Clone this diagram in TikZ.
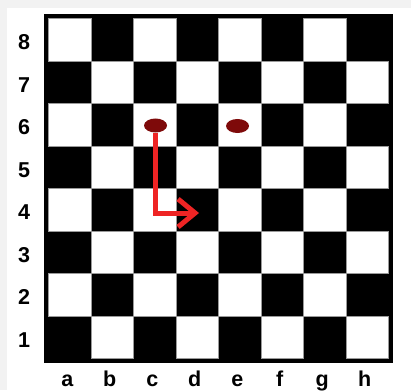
\documentclass[tikz,border=0pt]{standalone}
\usepackage{fontspec}
\setmainfont{Liberation Sans}
\usetikzlibrary{arrows.meta,shapes.geometric}
\definecolor{framegray}{HTML}{F2F2F2}
\definecolor{piecered}{HTML}{7E0A0A}
\definecolor{arrowred}{HTML}{EE2424}
\definecolor{edgegray}{HTML}{9A9A9A}
\tikzset{
  lightsq/.style={fill=white, draw=edgegray, line width=0.7pt},
  coordlabel/.style={font=\fontsize{21.5}{21.5}\selectfont\bfseries, text=black, inner sep=0pt},
  piece/.style={ellipse, fill=piecered, minimum width=23pt, minimum height=14pt, inner sep=0pt},
  movearrow/.style={draw=arrowred, line width=5pt, -{Straight Barb[length=17pt,width=28pt]}}
}
\begin{document}
\begin{tikzpicture}[x=1pt,y=-1pt]
\useasboundingbox (0,0) rectangle (411,390);
\fill[framegray] (0,0) rectangle (411,390);
\fill[white] (7,8) rectangle (411,390);
% board border
\fill[black] (44,14) rectangle (393,363);
% light squares
\foreach \i in {1,...,8}{
  \foreach \j in {1,...,8}{
    \pgfmathtruncatemacro{\sqpar}{mod(\i+\j,2)}
    \ifnum\sqpar=1
      \draw[lightsq] ({48.5+42.5*(\i-1)},{18.5+42.5*(8-\j)}) rectangle ++(42.5,42.5);
    \fi
  }
}
% rank labels
\foreach \j in {1,...,8}{
  \node[coordlabel] (r\j) at (24,{18.5+42.5*(8-\j)+21.25+2.5}) {\j};
}
% file labels
\foreach \f [count=\i] in {a,b,c,d,e,f,g,h}{
  \node[coordlabel, anchor=base] (f\f) at ({48.5+42.5*(\i-1)+21.25-2.5},386) {\f};
}
% pieces
\node[piece] (pc) at (155.5,125.5) {};
\node[piece] (pe) at (237.5,126) {};
\coordinate (tgt) at (199,213);
\draw[movearrow] (pc.south) |- (tgt);
\end{tikzpicture}
\end{document}
